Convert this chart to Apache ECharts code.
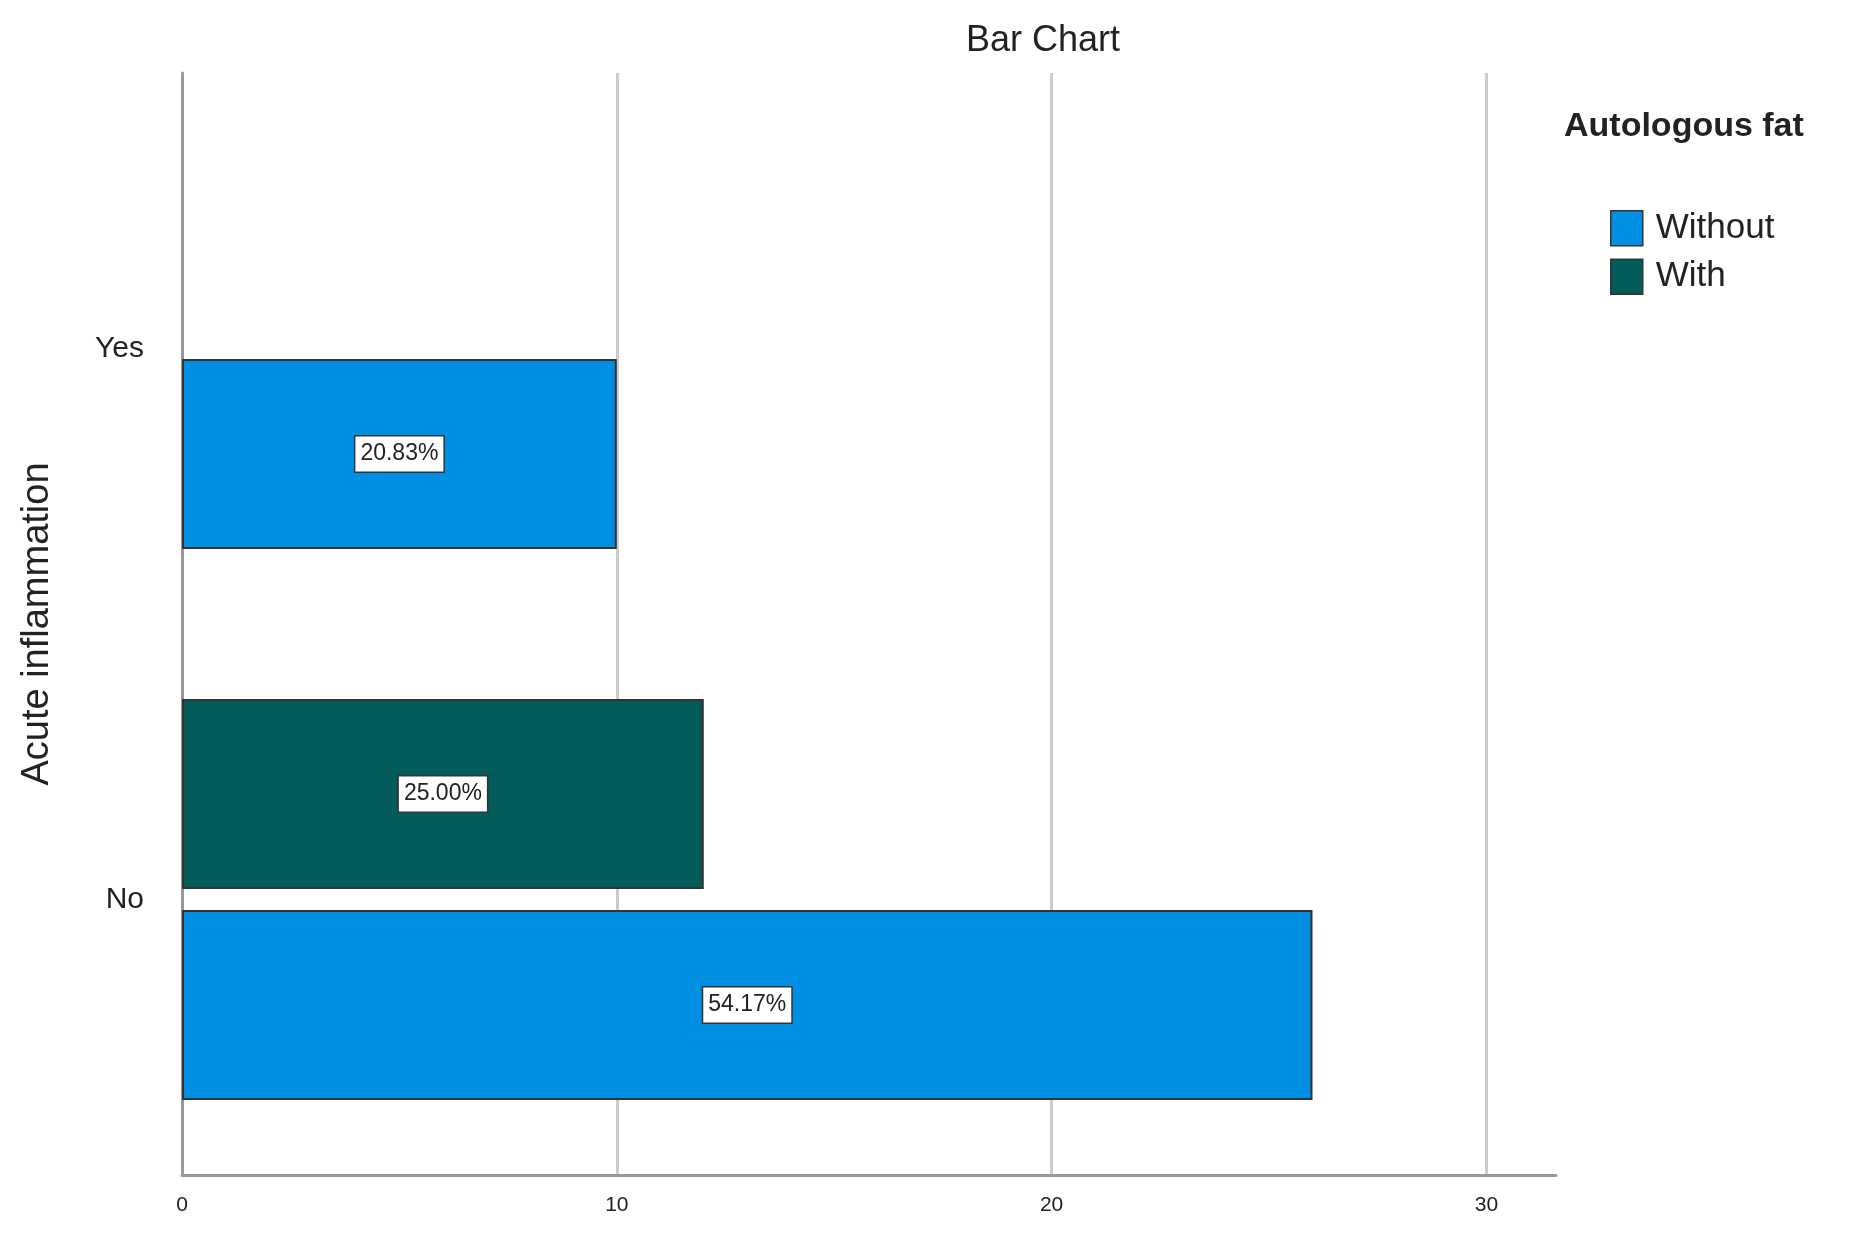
<!DOCTYPE html>
<html><head><meta charset="utf-8">
<script src="https://cdn.jsdelivr.net/npm/echarts@6/dist/echarts.min.js"></script>
<style>html,body{margin:0;background:#fff}#c{width:1851px;height:1244px}</style>
</head><body><div id="c"></div>
<script>
const categories = ['No', 'Yes'];
const withoutValues = [26, 10];
const withValues = [12, null];
const withoutLabels = ['54.17%', '20.83%'];
const withLabels = ['25.00%', ''];
const xTicks = [0, 10, 20, 30];

const chart = echarts.init(document.getElementById('c'));
const lbl = (arr) => ({
  show: true, position: 'inside',
  formatter: p => arr[p.dataIndex],
  backgroundColor: '#fff', borderColor: '#333', borderWidth: 1.5,
  padding: [6, 5], color: '#222', fontSize: 23, fontFamily: 'Liberation Sans'
});
chart.setOption({
  animation: false,
  title: { text: 'Bar Chart', left: 1038, top: 18, textAlign: 'center',
    textStyle: { fontSize: 36, fontWeight: 'normal', color: '#222', fontFamily: 'Liberation Sans' } },
  graphic: [{ type: 'text', left: 1564, top: 110,
    style: { text: 'Autologous fat', fontSize: 34, fontWeight: 'bold', fill: '#222', fontFamily: 'Liberation Sans' } }],
  legend: { orient: 'vertical', left: 1605, top: 205, itemWidth: 32, itemHeight: 35, itemGap: 12,
    icon: 'rect', data: ['Without', 'With'],
    textStyle: { fontSize: 35, color: '#222', fontFamily: 'Liberation Sans', padding: [0, 0, 0, 8] },
    itemStyle: { borderColor: '#333', borderWidth: 1.5 } },
  grid: { left: 182, top: 73, width: 1374, height: 1102, containLabel: false },
  xAxis: { type: 'value', min: 0, max: 31.6, interval: 10,
    axisLine: { show: true, lineStyle: { color: '#999', width: 3 } },
    axisTick: { show: false },
    axisLabel: { fontSize: 21, color: '#222', fontFamily: 'Liberation Sans', margin: 20,
      customValues: xTicks, formatter: v => xTicks.includes(v) ? String(v) : '' },
    splitLine: { show: true, showMaxLine: false, lineStyle: { color: '#ccc', width: 3 } } },
  yAxis: { type: 'category', data: categories,
    name: 'Acute inflammation', nameLocation: 'middle', nameGap: 125, nameRotate: 90,
    nameTextStyle: { fontSize: 38, color: '#222', fontFamily: 'Liberation Sans' },
    axisLine: { show: true, lineStyle: { color: '#999', width: 3 } },
    axisTick: { show: false },
    axisLabel: { fontSize: 30, color: '#222', fontFamily: 'Liberation Sans', margin: 38 } },
  series: [
    { name: 'With', type: 'bar', data: withValues, barWidth: 190, barGap: '11%',
      itemStyle: { color: '#035c5a', borderColor: '#333', borderWidth: 2 }, label: lbl(withLabels) },
    { name: 'Without', type: 'bar', data: withoutValues, barWidth: 190,
      itemStyle: { color: '#008fe3', borderColor: '#333', borderWidth: 2 }, label: lbl(withoutLabels) }
  ]
});
</script></body></html>
